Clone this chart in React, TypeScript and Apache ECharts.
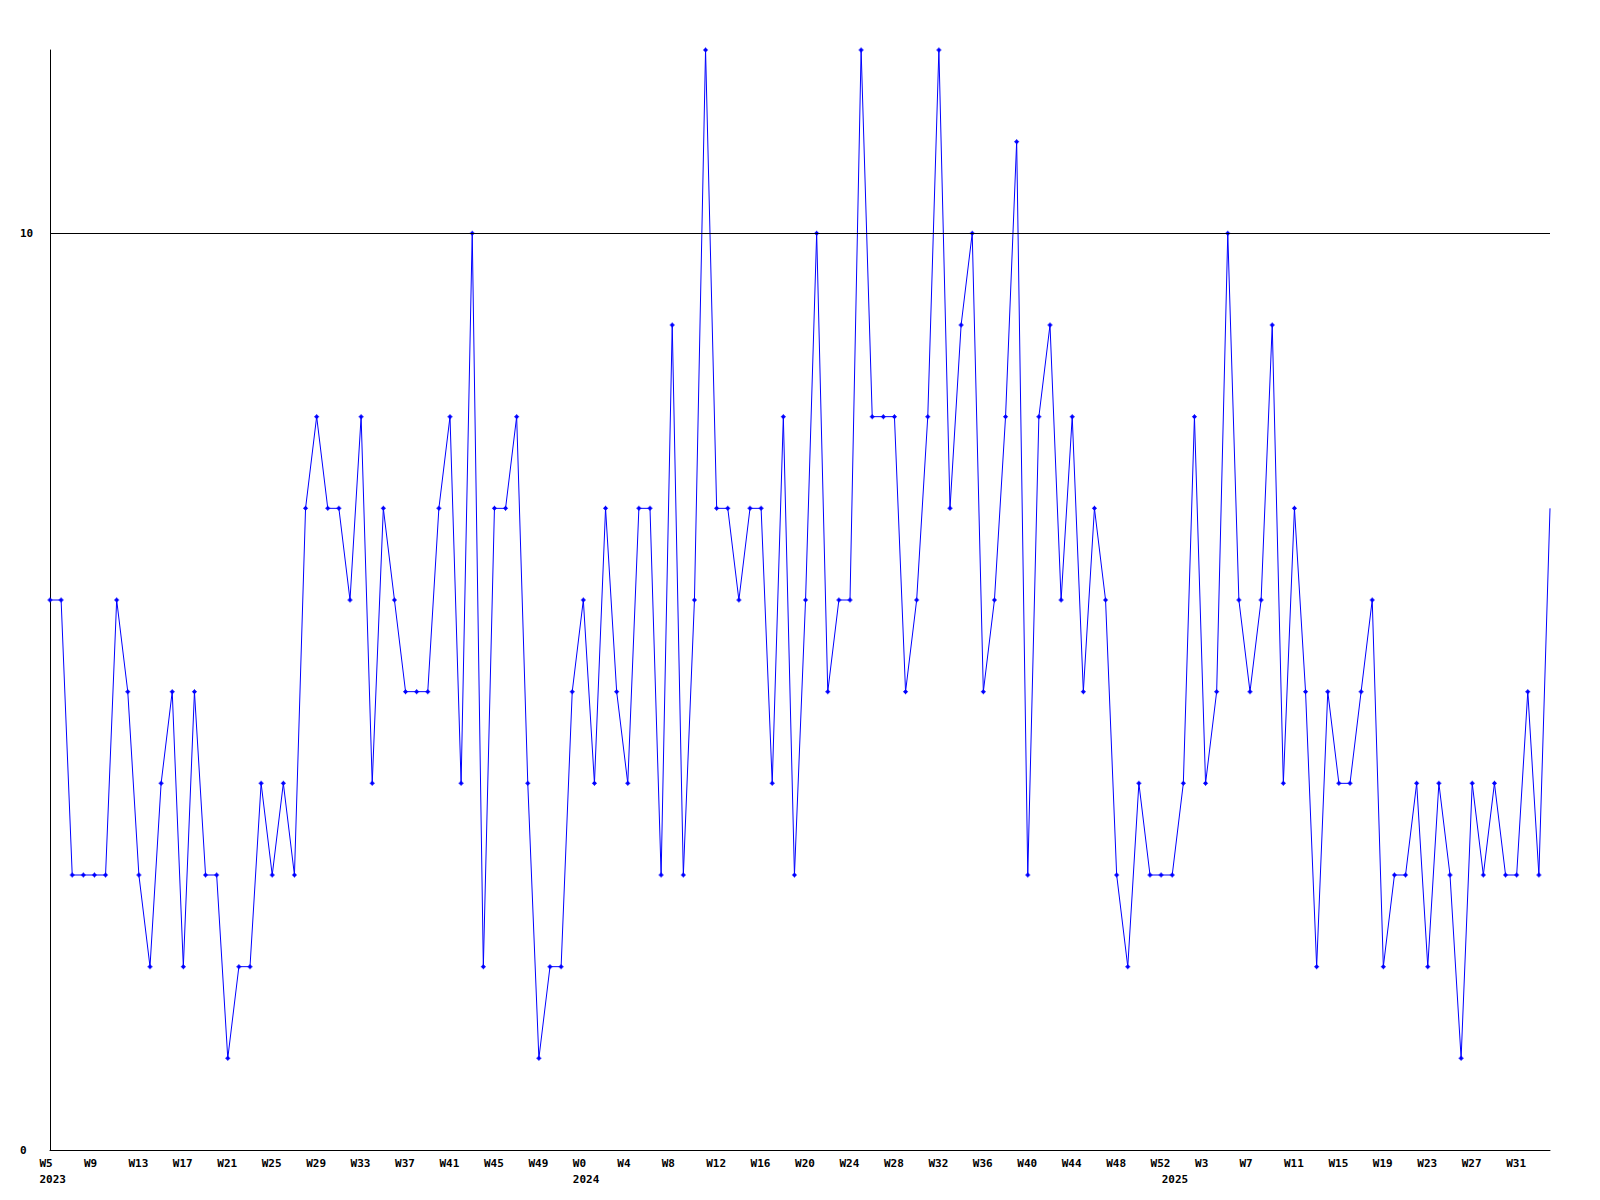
import React, { useEffect, useRef } from "react";
import * as echarts from "echarts";

// Week ranges covered by the series: [year, first week, last week]
const weekRanges: [number, number, number][] = [
  [2023, 5, 52],
  [2024, 0, 52],
  [2025, 0, 34],
];

// Weekly values, in order from 2023-W5 to 2025-W34
const values: number[] = [
  6, 6, 3, 3, 3, 3, 6, 5, 3, 2,
  4, 5, 2, 5, 3, 3, 1, 2, 2, 4,
  3, 4, 3, 7, 8, 7, 7, 6, 8, 4,
  7, 6, 5, 5, 5, 7, 8, 4, 10, 2,
  7, 7, 8, 4, 1, 2, 2, 5, 6, 4,
  7, 5, 4, 7, 7, 3, 9, 3, 6, 12,
  7, 7, 6, 7, 7, 4, 8, 3, 6, 10,
  5, 6, 6, 12, 8, 8, 8, 5, 6, 8,
  12, 7, 9, 10, 5, 6, 8, 11, 3, 8,
  9, 6, 8, 5, 7, 6, 3, 2, 4, 3,
  3, 3, 4, 8, 4, 5, 10, 6, 5, 6,
  9, 4, 7, 5, 2, 5, 4, 4, 5, 6,
  2, 3, 3, 4, 2, 4, 3, 1, 4, 3,
  4, 3, 3, 5, 3, 7,
];

// Week tick labels shown on the x axis
const tickWeeks: string[] = [
  "2023-W5", "2023-W9", "2023-W13", "2023-W17", "2023-W21", "2023-W25",
  "2023-W29", "2023-W33", "2023-W37", "2023-W41", "2023-W45", "2023-W49",
  "2024-W0", "2024-W4", "2024-W8", "2024-W12", "2024-W16", "2024-W20",
  "2024-W24", "2024-W28", "2024-W32", "2024-W36", "2024-W40", "2024-W44",
  "2024-W48", "2024-W52",
  "2025-W3", "2025-W7", "2025-W11", "2025-W15", "2025-W19", "2025-W23",
  "2025-W27", "2025-W31",
];

// Year labels (second line) under the first week of each year
const yearMarks: Record<string, string> = {
  "2023-W5": "2023",
  "2024-W0": "2024",
  "2025-W0": "2025",
};

const yTickValues = [0, 10];
const thresholdValue = 10;

const categories: string[] = [];
weekRanges.forEach(([y, a, b]) => {
  for (let w = a; w <= b; w++) categories.push(`${y}-W${w}`);
});

const tickSet = new Set(tickWeeks);

export default function App() {
  const ref = useRef<HTMLDivElement>(null);

  useEffect(() => {
    if (!ref.current) return;
    const chart = echarts.init(ref.current, undefined, { renderer: "svg" });
    const font = "DejaVu Sans Mono";
    const plusPath = "path://M2,0H3V1H4V2H5V3H4V4H3V5H2V4H1V3H0V2H1V1H2Z";

    const seriesData = values.map((v, i) =>
      i === values.length - 1 ? { value: v, symbol: "none" } : v
    );

    chart.setOption({
      animation: false,
      backgroundColor: "#ffffff",
      grid: { left: 50, right: 50, top: 50, bottom: 50, containLabel: false },
      xAxis: {
        type: "category",
        data: categories,
        boundaryGap: false,
        axisLine: { show: true, lineStyle: { color: "#000000", width: 1 } },
        axisTick: { show: false },
        splitLine: { show: false },
        axisLabel: {
          show: true,
          margin: 5,
          align: "center",
          interval: (_i: number, value: string) =>
            tickSet.has(value) || value in yearMarks,
          formatter: (value: string) => {
            const w = tickSet.has(value) ? value.split("-")[1] : " ";
            const y = yearMarks[value];
            return y ? `{a|${w}}\n{a|${y}}` : `{a|${w}}`;
          },
          rich: {
            a: {
              width: 21,
              align: "left",
              fontFamily: font,
              fontWeight: "bold",
              fontSize: 11,
              lineHeight: 16,
              color: "#000000",
            },
          },
        },
      },
      yAxis: {
        type: "value",
        min: 0,
        max: 12,
        interval: 10,
        axisLine: { show: true, lineStyle: { color: "#000000", width: 1 } },
        axisTick: { show: false },
        splitLine: { show: false },
        axisLabel: {
          show: true,
          align: "left",
          margin: 30,
          fontFamily: font,
          fontWeight: "bold",
          fontSize: 11,
          color: "#000000",
          formatter: (v: number) => (yTickValues.includes(v) ? String(v) : ""),
        },
      },
      series: [
        {
          type: "line",
          data: seriesData,
          symbol: plusPath,
          symbolSize: 5,
          showAllSymbol: true,
          lineStyle: { color: "#0000ff", width: 1 },
          itemStyle: { color: "#0000ff" },
          emphasis: { disabled: true },
          silent: true,
          markLine: {
            silent: true,
            symbol: "none",
            label: { show: false },
            lineStyle: { color: "#000000", width: 1, type: "solid" },
            emphasis: { disabled: true },
            data: [{ yAxis: thresholdValue }],
          },
        },
      ],
    });

    return () => chart.dispose();
  }, []);

  return (
    <div
      ref={ref}
      style={{ position: "absolute", left: 0, top: 0, width: 1600, height: 1200 }}
    />
  );
}
